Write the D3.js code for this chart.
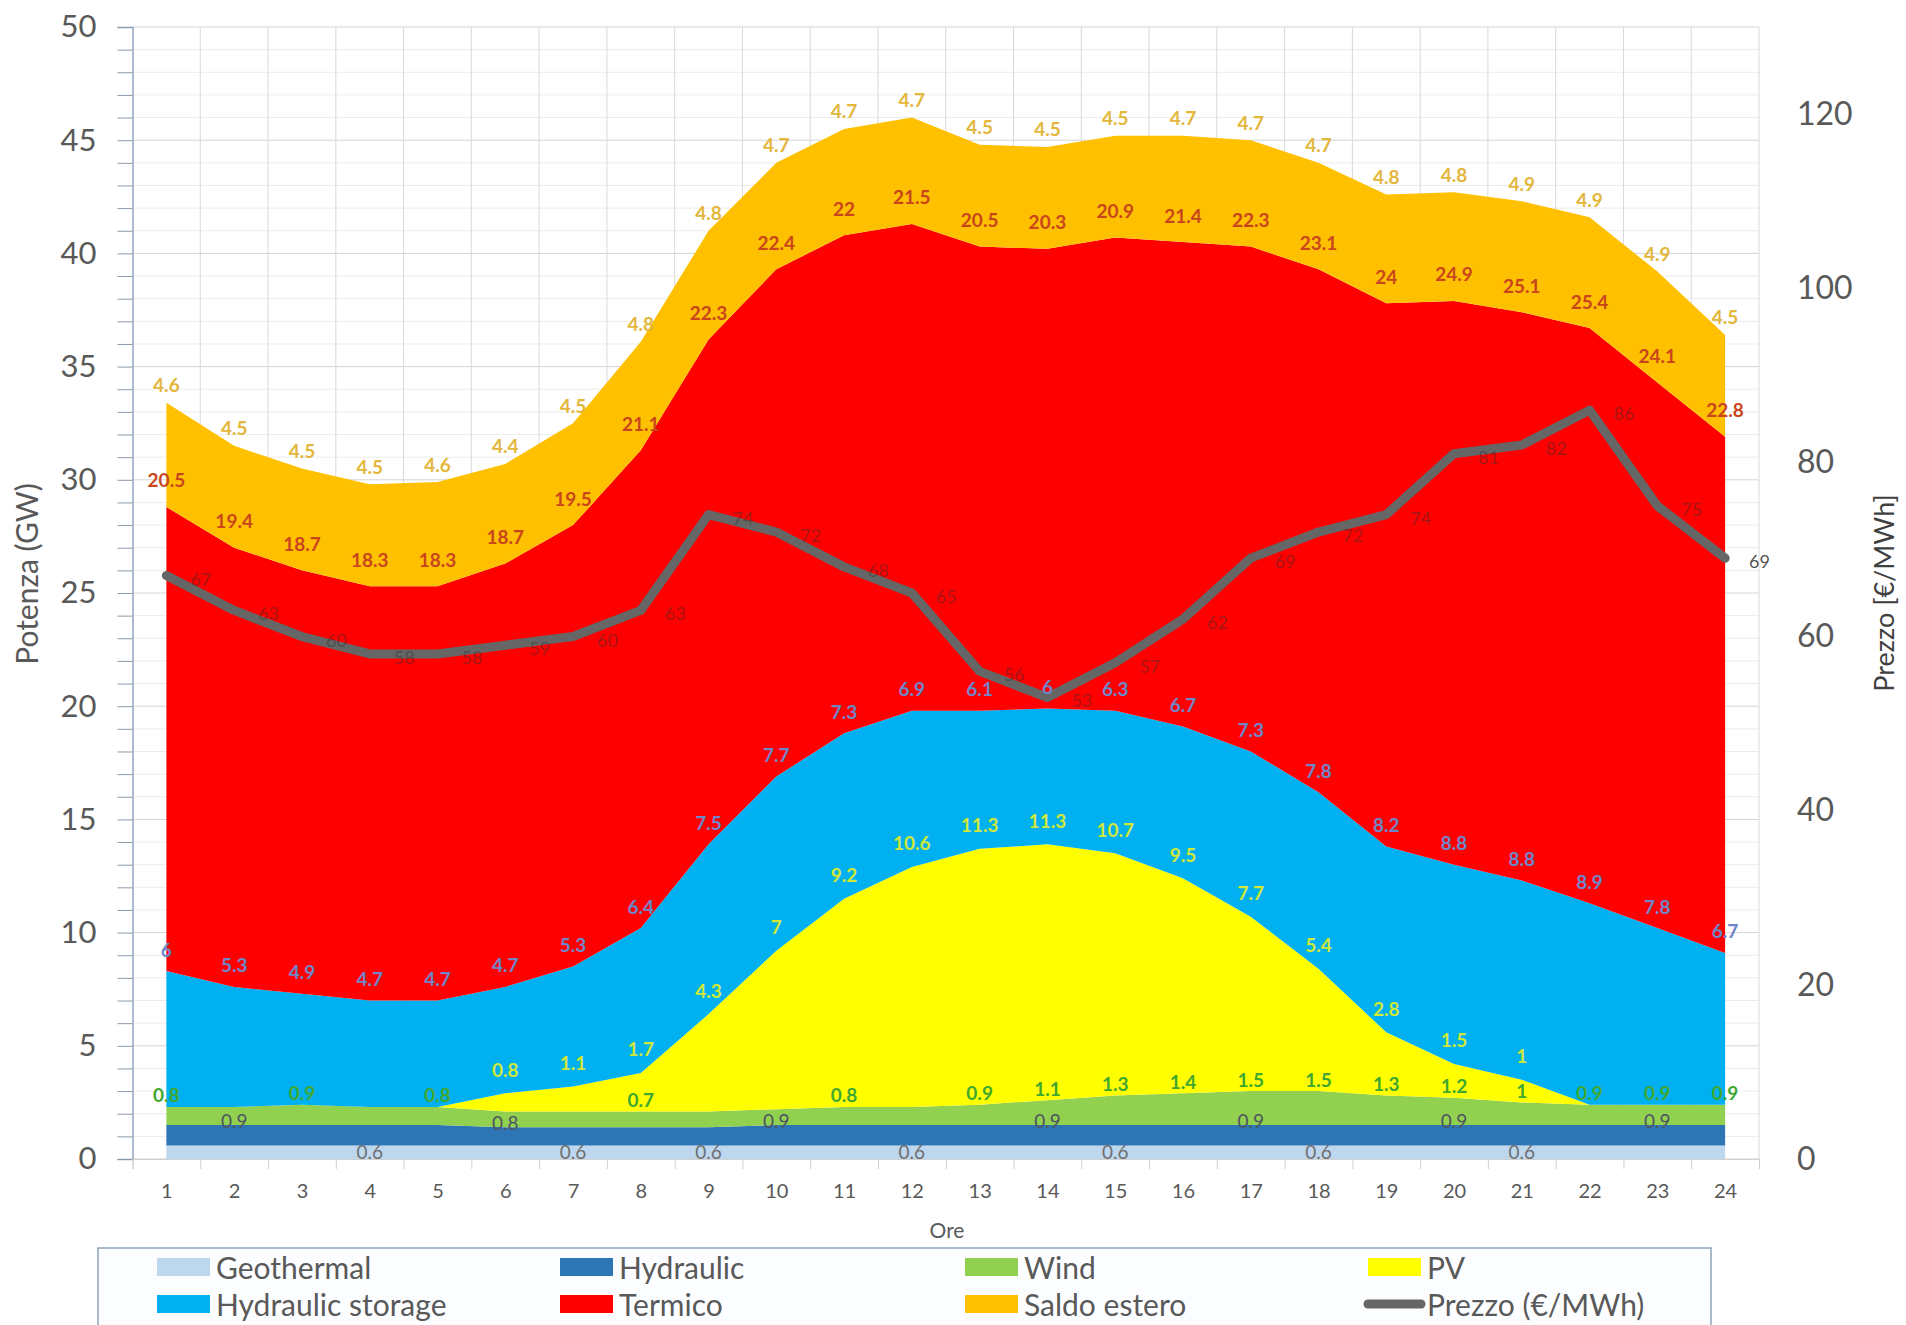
<!DOCTYPE html>
<html>
<head>
<meta charset="utf-8">
<script src="https://cdn.jsdelivr.net/npm/d3@7"></script>
<style>
  body { margin: 0; background: #fff; }
  svg { display: block; font-family: Lato, "Open Sans", sans-serif; }
</style>
</head>
<body>
<div class="chart"></div>
<script>
'use strict';
(function() {
  // Data (GW per hour, price in €/MWh)
  var hours = d3.range(1, 25);
  var geothermal = [0.6,0.6,0.6,0.6,0.6,0.6,0.6,0.6,0.6,0.6,0.6,0.6,0.6,0.6,0.6,0.6,0.6,0.6,0.6,0.6,0.6,0.6,0.6,0.6];
  var hydraulic = [0.9,0.9,0.9,0.9,0.9,0.8,0.8,0.8,0.8,0.9,0.9,0.9,0.9,0.9,0.9,0.9,0.9,0.9,0.9,0.9,0.9,0.9,0.9,0.9];
  var wind = [0.8,0.8,0.9,0.8,0.8,0.7,0.7,0.7,0.7,0.7,0.8,0.8,0.9,1.1,1.3,1.4,1.5,1.5,1.3,1.2,1,0.9,0.9,0.9];
  var pv = [0,0,0,0,0,0.8,1.1,1.7,4.3,7,9.2,10.6,11.3,11.3,10.7,9.5,7.7,5.4,2.8,1.5,1,0,0,0];
  var storage = [6,5.3,4.9,4.7,4.7,4.7,5.3,6.4,7.5,7.7,7.3,6.9,6.1,6,6.3,6.7,7.3,7.8,8.2,8.8,8.8,8.9,7.8,6.7];
  var termico = [20.5,19.4,18.7,18.3,18.3,18.7,19.5,21.1,22.3,22.4,22,21.5,20.5,20.3,20.9,21.4,22.3,23.1,24,24.9,25.1,25.4,24.1,22.8];
  var saldo = [4.6,4.5,4.5,4.5,4.6,4.4,4.5,4.8,4.8,4.7,4.7,4.7,4.5,4.5,4.5,4.7,4.7,4.7,4.8,4.8,4.9,4.9,4.9,4.5];
  var prezzo = [67,63,60,58,58,59,60,63,74,72,68,65,56,53,57,62,69,72,74,81,82,86,75,69];

  // Hours that carry a data label (only some are shown in the original)
  var geoLabelHours = [4,7,9,12,15,18,21];
  var hydroLabelHours = [2,6,10,14,17,20,23];
  var windLabelHours = [1,3,5,8,11,13,14,15,16,17,18,19,20,21,22,23,24];

  var leftTicks = [0,5,10,15,20,25,30,35,40,45,50];
  var rightTicks = [0,20,40,60,80,100,120];

  // Series settings
  var SERIES = [
    {key: 'geothermal', name: 'Geothermal', values: geothermal, color: '#bdd7ee', label: '#6f6f6f', weight: 400, dy: 6, show: geoLabelHours},
    {key: 'hydraulic', name: 'Hydraulic', values: hydraulic, color: '#2e75b6', label: '#4d5560', weight: 400, dy: -5, show: hydroLabelHours},
    {key: 'wind', name: 'Wind', values: wind, color: '#92d050', label: '#40a830', weight: 700, dy: -12, show: windLabelHours},
    {key: 'pv', name: 'PV', values: pv, color: '#ffff00', label: '#cfe83a', weight: 700, dy: -24, show: null},
    {key: 'storage', name: 'Hydraulic storage', values: storage, color: '#00b0f0', label: '#6f86c9', weight: 700, dy: -22, show: null},
    {key: 'termico', name: 'Termico', values: termico, color: '#ff0000', label: '#c9461d', weight: 700, dy: -27, show: null},
    {key: 'saldo', name: 'Saldo estero', values: saldo, color: '#ffc000', label: '#e3b63c', weight: 700, dy: -18, show: null}
  ];
  var PRICE_COLOR = '#666666';

  // Size
  var w = 1906;
  var h = 1325;
  var plot = {left: 132.5, right: 1759, top: 27, bottom: 1159};

  // Build table for the stack
  var table = hours.map(function(hr, i) {
    var row = {hour: hr};
    SERIES.forEach(function(s) { row[s.key] = s.values[i]; });
    return row;
  });
  var stacked = d3.stack().keys(SERIES.map(function(s) { return s.key; }))(table);

  // Scales
  var x = d3.scaleLinear().domain([0.5, 24.5]).range([plot.left, plot.right]);
  var y = d3.scaleLinear().domain([0, 50]).range([plot.bottom, plot.top]);
  var y2 = d3.scaleLinear().domain([0, 130]).range([plot.bottom, plot.top]);

  var svg = d3.select('.chart')
    .append('svg')
    .attr('width', w)
    .attr('height', h);

  // Grid: minor every 1 GW, major every 5 GW, vertical at category edges
  var grid = svg.append('g').attr('class', 'grid');
  grid.selectAll('line.minor')
    .data(d3.range(0, 51).filter(function(d) { return d % 5 !== 0; }))
    .enter()
    .append('line')
    .attr('x1', plot.left).attr('x2', plot.right)
    .attr('y1', function(d) { return y(d); })
    .attr('y2', function(d) { return y(d); })
    .attr('stroke', '#ececec');
  grid.selectAll('line.major')
    .data(leftTicks)
    .enter()
    .append('line')
    .attr('x1', plot.left).attr('x2', plot.right)
    .attr('y1', function(d) { return y(d); })
    .attr('y2', function(d) { return y(d); })
    .attr('stroke', '#d4d4d4');
  grid.selectAll('line.vert')
    .data(d3.range(1.5, 25, 1))
    .enter()
    .append('line')
    .attr('x1', function(d) { return x(d); })
    .attr('x2', function(d) { return x(d); })
    .attr('y1', plot.top).attr('y2', plot.bottom)
    .attr('stroke', '#d9d9d9');

  // Stacked areas
  var area = d3.area()
    .x(function(d) { return x(d.data.hour); })
    .y0(function(d) { return y(d[0]); })
    .y1(function(d) { return y(d[1]); });

  svg.append('g')
    .attr('class', 'areas')
    .selectAll('path')
    .data(stacked)
    .enter()
    .append('path')
    .attr('d', area)
    .attr('fill', function(d, i) { return SERIES[i].color; });

  // Left axis
  var yAxis = d3.axisLeft(y)
    .tickValues(d3.range(0, 51))
    .tickSize(15)
    .tickPadding(21)
    .tickFormat(function(d) { return d % 5 === 0 ? d : ''; });
  var gy = svg.append('g')
    .attr('transform', 'translate(' + plot.left + ',0)')
    .call(yAxis);
  gy.select('.domain').attr('stroke', '#8fa6bd').attr('stroke-width', 1.5);
  gy.selectAll('.tick line').attr('stroke', '#8c99a8');
  gy.selectAll('.tick text')
    .attr('font-size', 31)
    .attr('font-family', 'Lato, sans-serif')
    .attr('fill', '#595959');

  // Right axis (price)
  var y2Axis = d3.axisRight(y2)
    .tickValues(rightTicks)
    .tickSize(0)
    .tickPadding(38);
  var gy2 = svg.append('g')
    .attr('transform', 'translate(' + plot.right + ',0)')
    .call(y2Axis);
  gy2.select('.domain').remove();
  gy2.selectAll('.tick text')
    .attr('font-size', 32)
    .attr('font-family', 'Lato, sans-serif')
    .attr('fill', '#595959');

  // Bottom axis: ticks at category edges, labels at centres
  var xTicks = d3.axisBottom(x)
    .tickValues(d3.range(0.5, 25, 1))
    .tickSize(10)
    .tickFormat('');
  var gx = svg.append('g')
    .attr('transform', 'translate(0,' + plot.bottom + ')')
    .call(xTicks);
  gx.select('.domain').attr('stroke', '#d0d0d0');
  gx.selectAll('.tick line').attr('stroke', '#d0d0d0');

  var xLabels = d3.axisBottom(x)
    .tickValues(hours)
    .tickSize(0)
    .tickPadding(25);
  var gxl = svg.append('g')
    .attr('transform', 'translate(0,' + plot.bottom + ')')
    .call(xLabels);
  gxl.select('.domain').remove();
  gxl.selectAll('.tick text')
    .attr('font-size', 20)
    .attr('font-family', 'Lato, sans-serif')
    .attr('fill', '#595959');

  // Price line
  var line = d3.line()
    .x(function(d, i) { return x(hours[i]); })
    .y(function(d) { return y2(d); });
  svg.append('path')
    .datum(prezzo)
    .attr('d', line)
    .attr('fill', 'none')
    .attr('stroke', PRICE_COLOR)
    .attr('stroke-width', 9)
    .attr('stroke-linejoin', 'round')
    .attr('stroke-linecap', 'round');

  // Area data labels
  var labels = svg.append('g').attr('class', 'labels');
  stacked.forEach(function(layer, si) {
    var s = SERIES[si];
    var pts = layer.filter(function(d) {
      var v = d.data[s.key];
      if (s.show) return s.show.indexOf(d.data.hour) !== -1;
      return v > 0;
    });
    labels.append('g')
      .selectAll('text')
      .data(pts)
      .enter()
      .append('text')
      .text(function(d) { return d.data[s.key]; })
      .attr('x', function(d) { return x(d.data.hour); })
      .attr('y', function(d) { return y(d[1]) + s.dy; })
      .attr('text-anchor', 'middle')
      .attr('dominant-baseline', 'central')
      .attr('font-size', 19)
      .attr('font-weight', s.weight)
      .attr('fill', s.label);
  });

  // Price labels, to the right of each point (faint over the red area)
  labels.append('g')
    .selectAll('text')
    .data(prezzo)
    .enter()
    .append('text')
    .text(function(d) { return d; })
    .attr('x', function(d, i) { return x(hours[i]) + 24; })
    .attr('y', function(d) { return y2(d) + 3; })
    .attr('dominant-baseline', 'central')
    .attr('font-size', 18)
    .attr('fill', '#303030')
    .attr('fill-opacity', function(d, i) { return x(hours[i]) + 24 > x(24) ? 0.85 : 0.45; });

  // Axis titles
  svg.append('text')
    .text('Potenza (GW)')
    .attr('transform', 'translate(38,574) rotate(-90)')
    .attr('text-anchor', 'middle')
    .attr('font-size', 30)
    .attr('fill', '#595959');
  svg.append('text')
    .text('Ore')
    .attr('x', 947)
    .attr('y', 1238)
    .attr('text-anchor', 'middle')
    .attr('font-size', 21)
    .attr('fill', '#595959');
  svg.append('text')
    .text('Prezzo [€/MWh]')
    .attr('transform', 'translate(1894,593) rotate(-90)')
    .attr('text-anchor', 'middle')
    .attr('font-size', 27)
    .attr('fill', '#404040');

  // Legend
  var legend = svg.append('g').attr('class', 'legend');
  legend.append('rect')
    .attr('x', 98).attr('y', 1248)
    .attr('width', 1613).attr('height', 90)
    .attr('fill', '#fcfdff')
    .attr('stroke', '#8ea4b8')
    .attr('stroke-width', 1.5);

  var legendItems = [
    {name: 'Geothermal', color: SERIES[0].color},
    {name: 'Hydraulic', color: SERIES[1].color},
    {name: 'Wind', color: SERIES[2].color},
    {name: 'PV', color: SERIES[3].color},
    {name: 'Hydraulic storage', color: SERIES[4].color},
    {name: 'Termico', color: SERIES[5].color},
    {name: 'Saldo estero', color: SERIES[6].color},
    {name: 'Prezzo (€/MWh)', color: PRICE_COLOR, line: true}
  ];
  var colX = [157, 560, 965, 1368];
  var rowY = [1267, 1304];

  var item = legend.selectAll('g.item')
    .data(legendItems)
    .enter()
    .append('g')
    .attr('transform', function(d, i) {
      return 'translate(' + colX[i % 4] + ',' + rowY[Math.floor(i / 4)] + ')';
    });
  item.filter(function(d) { return !d.line; })
    .append('rect')
    .attr('x', 0).attr('y', -9)
    .attr('width', 53).attr('height', 18)
    .attr('fill', function(d) { return d.color; });
  item.filter(function(d) { return d.line; })
    .append('line')
    .attr('x1', 0).attr('x2', 53)
    .attr('y1', 0).attr('y2', 0)
    .attr('stroke', PRICE_COLOR)
    .attr('stroke-width', 9)
    .attr('stroke-linecap', 'round');
  item.append('text')
    .text(function(d) { return d.name; })
    .attr('x', 59)
    .attr('y', 0)
    .attr('dominant-baseline', 'central')
    .attr('font-size', 30)
    .attr('fill', '#595959');
})();
</script>
</body>
</html>
